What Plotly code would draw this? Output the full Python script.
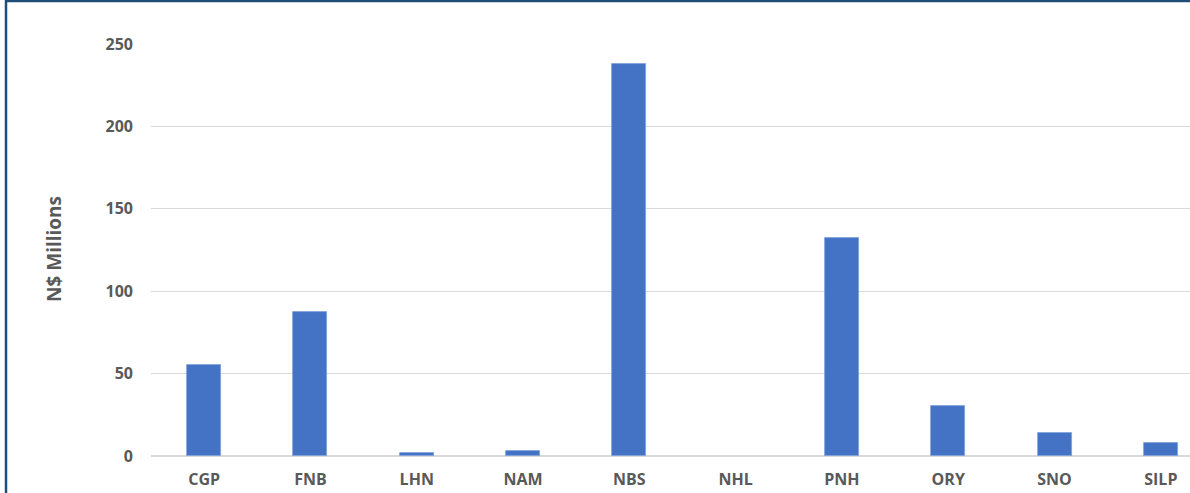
import plotly.graph_objects as go

categories = ["CGP", "FNB", "LHN", "NAM", "NBS", "NHL", "PNH", "ORY", "SNO", "SILP"]
values = [55.5, 87.5, 1.6, 2.8, 238, 0, 132.3, 30.3, 13.8, 8.1]
y_ticks = [0, 50, 100, 150, 200, 250]
y_title = "N$ Millions"

W, H = 1190, 493
L, T, B = 151, 44, 37
plot_w = W - L
plot_h = H - T - B

def px_x(px):
    return (px - L) / plot_w

def px_y(py):
    return (H - B - py) / plot_h

font_family = "Open Sans, Liberation Sans, Arial, sans-serif"
grey = "#595959"

fig = go.Figure(
    go.Bar(
        x=categories,
        y=values,
        width=0.32,
        marker=dict(color="#4472C4",
                    line=dict(color="#7FA0DA", width=[0.8 if v > 0 else 0 for v in values])),
        hoverinfo="x+y",
    )
)

fig.update_layout(
    width=W,
    height=H,
    margin=dict(l=L, r=0, t=T, b=B, pad=0),
    paper_bgcolor="white",
    plot_bgcolor="white",
    showlegend=False,
    bargap=0,
    font=dict(family=font_family, color=grey, size=16),
    xaxis=dict(
        type="category",
        range=[-0.5, 9.5 - 24 / 106.3],
        showgrid=False,
        showline=False,
        zeroline=False,
        ticks="",
        tickfont=dict(family=font_family, size=16, color=grey, weight="bold"),
        ticklabelstandoff=12,
        fixedrange=True,
    ),
    yaxis=dict(
        range=[0, 250],
        tickvals=y_ticks,
        showgrid=True,
        gridcolor="#D9D9D9",
        gridwidth=1.3,
        zeroline=True,
        zerolinecolor="#D9D9D9",
        zerolinewidth=1.5,
        showline=False,
        ticks="",
        tickfont=dict(family=font_family, size=16, color=grey, weight="bold"),
        ticklabelstandoff=17,
        fixedrange=True,
    ),
    shapes=[
        dict(type="line", xref="paper", yref="paper",
             x0=px_x(6), x1=px_x(W + 5), y0=px_y(1), y1=px_y(1),
             line=dict(color="#1F4E79", width=2.5)),
        dict(type="line", xref="paper", yref="paper",
             x0=px_x(6), x1=px_x(6), y0=px_y(0), y1=px_y(H + 5),
             line=dict(color="#1F4E79", width=2.5)),
    ],
    annotations=[
        dict(text=y_title, xref="paper", yref="paper",
             x=px_x(54), y=px_y(249), textangle=-90, showarrow=False,
             xanchor="center", yanchor="middle",
             font=dict(family=font_family, size=19, color=grey, weight="bold")),
    ],
)

fig.write_html("out.html", config={"displayModeBar": False})
